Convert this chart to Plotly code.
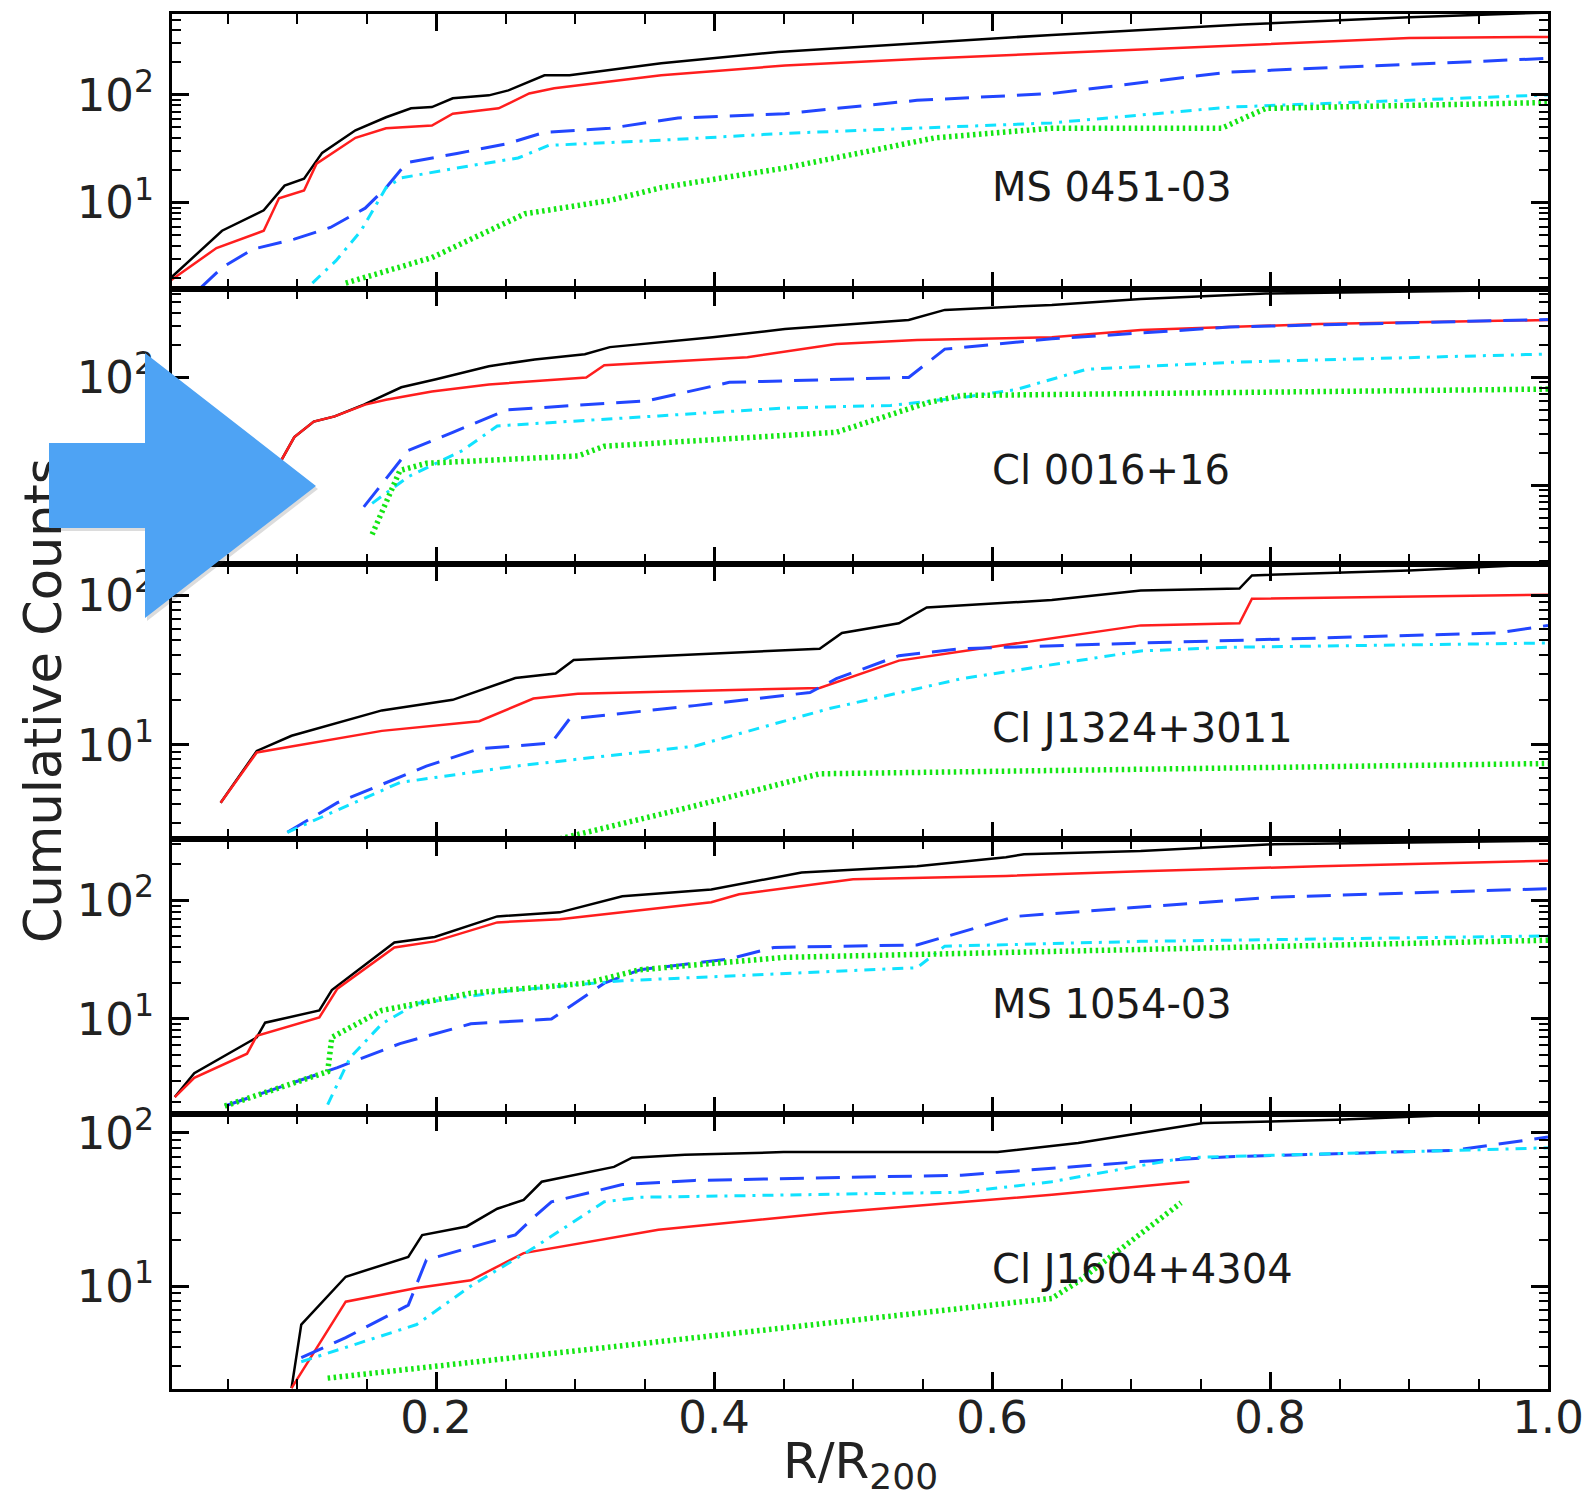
import plotly.graph_objects as go
from plotly.subplots import make_subplots

# ---------------- data ----------------
panel_names = ["MS 0451-03", "Cl 0016+16", "Cl J1324+3011", "MS 1054-03", "Cl J1604+4304"]
x_tick_vals = [0.2, 0.4, 0.6, 0.8, 1.0]
x_tick_text = ["0.2", "0.4", "0.6", "0.8", "1.0"]
y_tick_vals = [10, 100]
y_tick_text = ["10<sup>1</sup>", "10<sup>2</sup>"]
y_minor_vals = [2, 3, 4, 5, 6, 7, 8, 9, 20, 30, 40, 50, 60, 70, 80, 90, 200, 300, 400, 500, 600, 700, 800, 900]
y_log_ranges = [[0.2, 2.75], [0.27, 2.82], [0.37, 2.21], [0.2, 2.515], [0.327, 2.124]]

# Panel 1: MS 0451-03
p1_total_x = [0.009, 0.046, 0.076, 0.091, 0.105, 0.118, 0.142, 0.164, 0.182, 0.197, 0.212, 0.238, 0.252, 0.278, 0.296, 0.362, 0.446, 0.546, 0.643, 0.78, 0.90, 1.0]
p1_total_y = [2.0, 5.5, 8.5, 14.4, 16.7, 29, 47, 62, 75, 77, 93, 99, 110, 152, 152, 196, 250, 300, 360, 450, 525, 580]
p1_red_x = [0.009, 0.042, 0.076, 0.087, 0.105, 0.114, 0.142, 0.164, 0.197, 0.212, 0.245, 0.267, 0.285, 0.362, 0.451, 0.546, 0.643, 0.78, 0.90, 1.0]
p1_red_y = [1.9, 3.8, 5.5, 11, 13, 23, 40, 49, 52, 67, 75, 103, 115, 152, 187, 215, 243, 290, 336, 345]
p1_blue_x = [0.03, 0.046, 0.068, 0.098, 0.124, 0.149, 0.164, 0.179, 0.215, 0.252, 0.278, 0.325, 0.374, 0.451, 0.546, 0.643, 0.771, 1.0]
p1_blue_y = [1.6, 2.5, 3.7, 4.6, 5.9, 8.9, 13.8, 23.6, 28.6, 35.5, 45, 49, 61, 67, 89, 103, 163, 218]
p1_cyan_x = [0.111, 0.128, 0.146, 0.164, 0.175, 0.215, 0.259, 0.281, 0.362, 0.451, 0.643, 0.771, 1.0]
p1_cyan_y = [1.8, 2.9, 5.5, 13.8, 17, 21, 26, 34, 38, 44, 55, 77, 100]
p1_green_x = [0.135, 0.197, 0.234, 0.264, 0.325, 0.362, 0.451, 0.559, 0.643, 0.765, 0.797, 1.0]
p1_green_y = [1.8, 3.1, 5.2, 7.9, 10.5, 13.8, 21, 40, 49, 49, 75, 85]

# Panel 2: Cl 0016+16
p2_total_x = [0.03, 0.066, 0.0886, 0.098, 0.112, 0.127, 0.148, 0.175, 0.2, 0.238, 0.271, 0.307, 0.325, 0.399, 0.451, 0.54, 0.566, 0.643, 0.707, 0.797, 1.0]
p2_total_y = [3, 9, 17, 28, 39, 43.5, 56, 81, 96, 127, 147, 164, 191, 236, 281, 341, 423, 470, 535, 600, 650]
p2_red_x = [0.03, 0.066, 0.0886, 0.098, 0.112, 0.127, 0.149, 0.164, 0.197, 0.238, 0.308, 0.321, 0.424, 0.488, 0.546, 0.643, 0.707, 0.835, 1.0]
p2_red_y = [3, 9, 17, 28, 39, 43.5, 56, 62, 74, 86, 100, 130, 154, 204, 222, 236, 275, 313, 341]
p2_blue_x = [0.148, 0.18, 0.212, 0.251, 0.353, 0.411, 0.54, 0.566, 0.643, 0.771, 1.0]
p2_blue_y = [6.3, 21, 31, 50, 61, 90, 100, 183, 228, 293, 345]
p2_cyan_x = [0.154, 0.18, 0.219, 0.244, 0.36, 0.45, 0.527, 0.578, 0.617, 0.668, 0.771, 1.0]
p2_cyan_y = [6.8, 12, 21, 35.5, 44, 52, 55, 65, 77, 119, 138, 165]
p2_green_x = [0.154, 0.174, 0.193, 0.302, 0.321, 0.488, 0.553, 0.578, 1.0]
p2_green_y = [3.5, 13.7, 16, 18.7, 23, 31, 58, 68, 78]

# Panel 3: Cl J1324+3011
p3_total_x = [0.045, 0.071, 0.096, 0.161, 0.212, 0.257, 0.286, 0.299, 0.476, 0.492, 0.533, 0.553, 0.643, 0.707, 0.778, 0.787, 0.90, 1.0]
p3_total_y = [4.1, 9.1, 11.5, 17, 20, 28, 30, 37, 44, 56, 65, 83, 93, 108, 111, 136, 147, 162]
p3_red_x = [0.045, 0.071, 0.161, 0.231, 0.27, 0.302, 0.476, 0.533, 0.591, 0.707, 0.778, 0.787, 1.0]
p3_red_y = [4.1, 8.9, 12.4, 14.4, 20.4, 22, 24, 36.6, 44, 63, 65, 95, 101]
p3_blue_x = [0.093, 0.129, 0.193, 0.231, 0.283, 0.296, 0.386, 0.469, 0.488, 0.533, 0.578, 0.707, 0.964, 1.0]
p3_blue_y = [2.6, 4.1, 7.2, 9.4, 10.3, 14.9, 18.3, 22.4, 27.7, 39.5, 44, 48, 56, 63]
p3_cyan_x = [0.093, 0.174, 0.257, 0.386, 0.482, 0.578, 0.707, 0.771, 1.0]
p3_cyan_y = [2.6, 5.6, 7.2, 9.8, 17.4, 27.7, 42.5, 45, 48]
p3_green_x = [0.289, 0.386, 0.476, 0.643, 1.0]
p3_green_y = [2.35, 3.9, 6.4, 6.7, 7.5]

# Panel 4: MS 1054-03
p4_total_x = [0.012, 0.026, 0.071, 0.077, 0.116, 0.125, 0.17, 0.199, 0.244, 0.289, 0.334, 0.398, 0.463, 0.546, 0.61, 0.623, 0.707, 0.803, 1.0]
p4_total_y = [2.2, 3.5, 7.0, 9.3, 11.8, 17.5, 44, 49, 73, 79, 108, 123, 171, 193, 230, 244, 259, 296, 316]
p4_red_x = [0.012, 0.026, 0.064, 0.071, 0.116, 0.129, 0.17, 0.199, 0.244, 0.289, 0.398, 0.418, 0.50, 0.61, 0.707, 0.835, 1.0]
p4_red_y = [2.2, 3.2, 5.1, 7.2, 10.3, 18, 40, 45, 65, 69, 96, 112, 150, 160, 175, 193, 215]
p4_blue_x = [0.048, 0.129, 0.174, 0.225, 0.283, 0.321, 0.347, 0.411, 0.443, 0.546, 0.617, 0.707, 0.803, 1.0]
p4_blue_y = [1.85, 3.9, 6.2, 9.1, 10, 20, 26, 32, 40, 42, 73, 87, 106, 125]
p4_cyan_x = [0.122, 0.138, 0.161, 0.186, 0.257, 0.334, 0.546, 0.566, 0.707, 1.0]
p4_cyan_y = [1.9, 4.7, 9.1, 13.5, 17.5, 21, 27, 41, 45, 50]
p4_green_x = [0.048, 0.122, 0.125, 0.161, 0.225, 0.308, 0.347, 0.45, 0.643, 1.0]
p4_green_y = [1.85, 3.6, 7.0, 11.8, 16.5, 20, 26, 33, 37, 46]

# Panel 5: Cl J1604+4304
p5_total_x = [0.096, 0.103, 0.135, 0.18, 0.19, 0.222, 0.244, 0.263, 0.276, 0.328, 0.341, 0.379, 0.45, 0.604, 0.662, 0.752, 0.848, 0.932, 1.0]
p5_total_y = [2.15, 5.6, 11.5, 15.5, 21.5, 24.5, 32, 36.5, 48, 60, 69, 72, 75, 75, 86, 116, 122, 131, 135]
p5_red_x = [0.096, 0.135, 0.186, 0.225, 0.263, 0.36, 0.482, 0.643, 0.742]
p5_red_y = [2.15, 7.9, 9.7, 10.9, 16.4, 23.3, 30, 39.5, 48]
p5_blue_x = [0.103, 0.135, 0.18, 0.193, 0.257, 0.27, 0.283, 0.334, 0.386, 0.578, 0.707, 0.771, 0.932, 1.0]
p5_blue_y = [3.4, 4.6, 7.5, 14.8, 21.6, 28, 35.5, 46, 49, 53, 65, 70, 77, 94]
p5_cyan_x = [0.103, 0.186, 0.225, 0.27, 0.321, 0.347, 0.578, 0.643, 0.739, 1.0]
p5_cyan_y = [3.2, 5.6, 10, 17.7, 35.5, 38, 41, 48, 69, 80]
p5_green_x = [0.122, 0.643, 0.662, 0.736]
p5_green_y = [2.5, 8.3, 10.7, 35]

panels = [
    [(p1_total_x, p1_total_y), (p1_red_x, p1_red_y), (p1_blue_x, p1_blue_y), (p1_cyan_x, p1_cyan_y), (p1_green_x, p1_green_y)],
    [(p2_total_x, p2_total_y), (p2_red_x, p2_red_y), (p2_blue_x, p2_blue_y), (p2_cyan_x, p2_cyan_y), (p2_green_x, p2_green_y)],
    [(p3_total_x, p3_total_y), (p3_red_x, p3_red_y), (p3_blue_x, p3_blue_y), (p3_cyan_x, p3_cyan_y), (p3_green_x, p3_green_y)],
    [(p4_total_x, p4_total_y), (p4_red_x, p4_red_y), (p4_blue_x, p4_blue_y), (p4_cyan_x, p4_cyan_y), (p4_green_x, p4_green_y)],
    [(p5_total_x, p5_total_y), (p5_red_x, p5_red_y), (p5_blue_x, p5_blue_y), (p5_cyan_x, p5_cyan_y), (p5_green_x, p5_green_y)],
]

# ---------------- styles ----------------
line_styles = [
    dict(color="#000000", width=2.5, dash="solid"),
    dict(color="#FF1E1E", width=2.5, dash="solid"),
    dict(color="#2246FF", width=3, dash="24px,12px"),
    dict(color="#10E2FF", width=3, dash="11px,7px,3px,7px"),
    dict(color="#14E614", width=5.5, dash="2.5px,3.5px"),
]
FONT = "DejaVu Sans"
W, H = 1591, 1498
L, R, T, B = 172, 43, 14, 109
PW = W - L - R
PH = H - T - B


def px_x(px):
    return (px - L) / PW


def px_y(py):
    return (H - B - py) / PH


fig = make_subplots(rows=5, cols=1, shared_xaxes=False, vertical_spacing=0)

for i, series in enumerate(panels):
    for (xs, ys), st in zip(series, line_styles):
        fig.add_trace(go.Scatter(x=xs, y=ys, mode="lines", line=st, showlegend=False,
                                 hoverinfo="skip"), row=i + 1, col=1)

axis_common = dict(showline=True, linewidth=3, linecolor="black", mirror="ticks",
                   ticks="inside", tickcolor="black", tickwidth=2.5, ticklen=17,
                   showgrid=False, zeroline=False,
                   tickfont=dict(family=FONT, size=45, color="#222222"))

for i in range(5):
    xa = dict(axis_common)
    xa.update(range=[0.01, 1.0], tickmode="array", tickvals=x_tick_vals, ticktext=x_tick_text,
              minor=dict(ticks="inside", ticklen=10, tickwidth=2, tickcolor="black",
                         tickmode="linear", tick0=0, dtick=0.05),
              showticklabels=(i == 4), ticklabelstandoff=-13)
    fig.update_xaxes(xa, row=i + 1, col=1)
    ya = dict(axis_common)
    ya.update(type="log", range=y_log_ranges[i], tickmode="array", tickvals=y_tick_vals,
              ticktext=y_tick_text,
              minor=dict(ticks="inside", ticklen=9, tickwidth=2, tickcolor="black",
                         tickmode="array", tickvals=y_minor_vals),
              ticklabelstandoff=6)
    fig.update_yaxes(ya, row=i + 1, col=1)

# y axis title drawn as a tick label of a helper axis (so the arrow overlay covers it)
fig.add_trace(go.Scatter(x=[], y=[], xaxis="x3", yaxis="y6", showlegend=False))
fig.update_layout(yaxis6=dict(overlaying="y3", anchor="free", position=0, side="left",
                              range=[0, 1], tickmode="array", tickvals=[0.476],
                              ticktext=["Cumulative Counts"], tickangle=-90,
                              showline=False, ticks="", showgrid=False, zeroline=False,
                              ticklabelstandoff=101,
                              tickfont=dict(family=FONT, size=51, color="#222222")))

annotations = []
label_py = [187, 470, 728, 1004, 1269]
for name, py in zip(panel_names, label_py):
    annotations.append(dict(text=name, xref="paper", yref="paper", x=px_x(990), y=px_y(py),
                            xanchor="left", yanchor="middle", showarrow=False,
                            font=dict(family=FONT, size=40, color="#1a1a1a")))
annotations.append(dict(text="R/R<sub><span style='font-size:36px'>200</span></sub>",
                        xref="paper", yref="paper", x=px_x(860),
                        y=px_y(1430), xanchor="center", yanchor="top", showarrow=False,
                        font=dict(family=FONT, size=50, color="#222222")))

# blue arrow overlay (pixel outline converted to paper coordinates)
arrow_pts = [(49, 443), (145, 443), (145, 353), (316, 486), (145, 618), (145, 528), (49, 528)]


def arrow_path(dx=0, dy=0):
    pts = [(px_x(x + dx), px_y(y + dy)) for x, y in arrow_pts]
    return "M " + " L ".join(f"{a:.5f},{b:.5f}" for a, b in pts) + " Z"


shapes = [
    dict(type="path", xref="paper", yref="paper", path=arrow_path(2, 3), layer="above",
         fillcolor="rgba(60,60,60,0.18)", line=dict(width=0)),
    dict(type="path", xref="paper", yref="paper", path=arrow_path(), layer="above",
         fillcolor="#4EA3F4", line=dict(width=0)),
]

fig.update_layout(width=W, height=H, margin=dict(l=L, r=R, t=T, b=B, autoexpand=False),
                  plot_bgcolor="white", paper_bgcolor="white", showlegend=False,
                  annotations=annotations, shapes=shapes,
                  font=dict(family=FONT, color="#222222"))

fig.write_html("out.html", config={"displayModeBar": False},
               post_script="document.body.style.margin='0px';")
